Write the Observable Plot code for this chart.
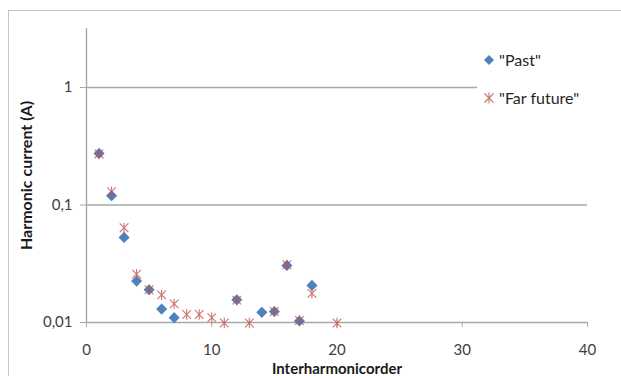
<!DOCTYPE html>
<html>
<head>
<meta charset="utf-8">
<script src="https://cdn.jsdelivr.net/npm/d3@7"></script>
<script src="https://cdn.jsdelivr.net/npm/@observablehq/plot@0.6"></script>
<style>
  html, body { margin: 0; padding: 0; background: #fff; }
  #wrap { position: relative; width: 621px; height: 376px; overflow: hidden; font-family: Lato, "Open Sans", sans-serif; }
  #border { position: absolute; left: 8px; top: 10px; width: 700px; height: 500px; border: 1px solid #c4c4c4; box-sizing: border-box; }
  #chart { position: absolute; left: 0; top: 0; }
  #legend { position: absolute; left: 477px; top: 44px; width: 130px; height: 72px; background: #fff; font-size: 16px; color: #262626; }
  .li { position: absolute; left: 6px; display: flex; align-items: center; white-space: nowrap; }
  .li svg { margin-right: 4px; }
</style>
</head>
<body>
<div id="wrap">
  <div id="border"></div>
  <div id="chart"></div>
  <div id="legend"></div>
</div>
<script>
const pastOrder = [1, 2, 3, 4, 5, 6, 7, 12, 14, 15, 16, 17, 18];
const pastCurrent = [0.275, 0.12, 0.053, 0.0225, 0.019, 0.013, 0.011, 0.0156, 0.0122, 0.0124, 0.0306, 0.0103, 0.0207];
const futureOrder = [1, 2, 3, 4, 5, 6, 7, 8, 9, 10, 11, 12, 13, 15, 16, 17, 18, 20];
const futureCurrent = [0.272, 0.13, 0.064, 0.0258, 0.019, 0.0172, 0.0144, 0.0117, 0.0117, 0.011, 0.0099, 0.0155, 0.0099, 0.0124, 0.031, 0.0104, 0.0177, 0.0099];
const seriesNames = ['"Past"', '"Far future"'];
const xTicks = [0, 10, 20, 30, 40];
const yTicks = [0.01, 0.1, 1];

const past = pastOrder.map((x, i) => ({x, y: pastCurrent[i]}));
const future = futureOrder.map((x, i) => ({x, y: futureCurrent[i]}));

const blue = "#4F81BD";
const red = "#C0504D";
const grid = "#a8a8a8";

const star = {
  draw(context, size) {
    const r = Math.sqrt(size / Math.PI);
    context.moveTo(-r, -r); context.lineTo(r, r);
    context.moveTo(r, -r); context.lineTo(-r, r);
    context.moveTo(0, -r * 1.2); context.lineTo(0, r * 1.2);
  }
};

const chart = Plot.plot({
  width: 621,
  height: 376,
  marginLeft: 86,
  marginRight: 34,
  marginTop: 28,
  marginBottom: 54,
  style: {fontFamily: "Lato, 'Open Sans', sans-serif", fontSize: "15px", background: "transparent", color: "#595959"},
  x: {domain: [0, 40]},
  y: {type: "log", domain: [0.01, 3.18]},
  marks: [
    Plot.ruleY(yTicks, {stroke: grid, strokeWidth: 1.4}),
    Plot.ruleX([0], {stroke: grid, strokeWidth: 1.4}),
    Plot.axisX({ticks: xTicks, tickSize: 5, tickPadding: 17, stroke: grid, fill: "#404040",
      label: "Interharmonicorder", labelAnchor: "center", labelOffset: 51, labelArrow: "none"}),
    Plot.axisY({ticks: yTicks, tickSize: 6, tickPadding: 8, stroke: grid, fill: "#404040",
      tickFormat: d => String(d).replace(".", ","),
      label: "Harmonic current (A)", labelAnchor: "center", labelOffset: 66, labelArrow: "none"}),
    Plot.dot(past, {x: "x", y: "y", symbol: "diamond2", r: 5, fill: blue, stroke: "none"}),
    Plot.dot(future, {x: "x", y: "y", symbol: star, r: 4.3, fill: "none", stroke: red, strokeWidth: 1.1, strokeOpacity: 0.8})
  ]
});
// style axis titles
chart.querySelectorAll("[aria-label='x-axis label']").forEach(g => {
  g.setAttribute("font-weight", "bold");
  g.setAttribute("font-size", "15px");
  g.setAttribute("fill", "#1a1a1a");
});
chart.querySelectorAll("[aria-label='y-axis label']").forEach(g => {
  g.setAttribute("font-weight", "bold");
  g.setAttribute("font-size", "16px");
  g.setAttribute("fill", "#1a1a1a");
});
document.getElementById("chart").appendChild(chart);

// legend
const legend = document.getElementById("legend");
const items = [
  {name: seriesNames[0], top: 6, svg: `<svg width="12" height="12"><path d="M6,1L11,6L6,11L1,6Z" fill="${blue}"/></svg>`},
  {name: seriesNames[1], top: 44, svg: `<svg width="12" height="12"><path d="M1.5,1.5L10.5,10.5M10.5,1.5L1.5,10.5M6,0.5L6,11.5" stroke="${red}" stroke-width="1.1" fill="none" opacity="0.8"/></svg>`}
];
items.forEach(it => {
  const d = document.createElement("div");
  d.className = "li";
  d.style.top = it.top + "px";
  d.innerHTML = it.svg + `<span>${it.name}</span>`;
  legend.appendChild(d);
});
</script>
</body>
</html>
